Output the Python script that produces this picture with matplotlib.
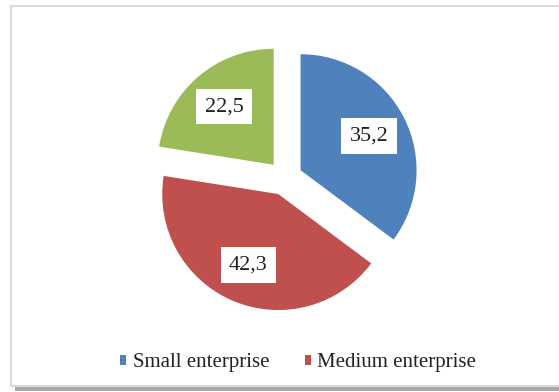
import matplotlib
matplotlib.use("Agg")
import matplotlib.pyplot as plt
from matplotlib.patches import Rectangle

categories = ["Small enterprise", "Medium enterprise", "Large enterprise"]
values = [35.2, 42.3, 22.5]
colors = ["#4F81BD", "#C0504D", "#9BBB59"]
legend_count = 2

plt.rcParams['font.family'] = ['Liberation Serif', 'DejaVu Serif']

W, H = 559, 392
R = 116
fig = plt.figure(figsize=(W / 100, H / 100), dpi=100)
ax = fig.add_axes([0, 0, 1, 1])

wedges, texts, autotexts = ax.pie(
    values, colors=colors, startangle=90, counterclock=False,
    explode=[0.15 * R] * len(values), radius=R, center=(285, H - 178),
    autopct=lambda p: f"{p:.1f}".replace('.', ','), pctdistance=0.66,
    wedgeprops=dict(linewidth=0),
    textprops=dict(fontsize=16, color='#222222'),
)
for t in autotexts:
    t.set_bbox(dict(facecolor='white', edgecolor='none', pad=6))

ax.set_xlim(0, W)
ax.set_ylim(0, H)
ax.set_aspect('auto')
ax.axis('off')

# chart frame and shadow
ax.add_patch(Rectangle((15, H - 391), W, 5, facecolor='#a9a9a9', edgecolor='none', zorder=0))
ax.add_patch(Rectangle((10.5, H - 385.5), W, 380, facecolor='white',
                       edgecolor='#d9d9d9', linewidth=1.5, zorder=0.5))

leg = fig.legend(wedges[:legend_count], categories[:legend_count],
                 loc='center', bbox_to_anchor=(298 / W, 29 / H), ncol=legend_count,
                 frameon=False, fontsize=15, handlelength=0.32, handleheight=0.32,
                 handletextpad=0.3, columnspacing=1.7)
for t in leg.get_texts():
    t.set_color('#222222')

fig.savefig("out.png", dpi=100)
